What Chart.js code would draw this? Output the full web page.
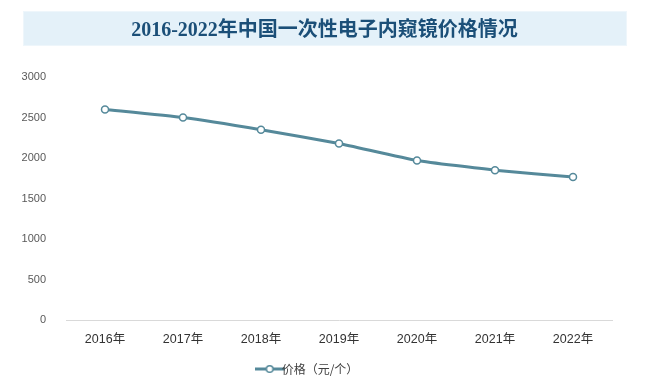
<!DOCTYPE html>
<html>
<head>
    <meta charset="utf-8">
    <title>一次性电子内窥镜价格</title>
    <script src="https://cdn.jsdelivr.net/npm/chart.js"></script>
    <style>
        html, body { margin: 0; padding: 0; background: #ffffff; }
        .chart-container { position: relative; width: 649px; height: 385px; }
    </style>
</head>
<body>
    <div class="chart-container">
        <canvas id="lineChart"></canvas>
    </div>

<script>
    var years = ['2016年', '2017年', '2018年', '2019年', '2020年', '2021年', '2022年'];
    var prices = [2600, 2500, 2350, 2180, 1970, 1850, 1765];
    var seriesName = '价格（元/个）';
    var titleText = '2016-2022年中国一次性电子内窥镜价格情况';
    var lineColor = '#55899a';

    // legend marker: short line with a hollow circle
    function legendMarker() {
        var c = document.createElement('canvas');
        c.width = 30; c.height = 10;
        var g = c.getContext('2d');
        g.strokeStyle = lineColor;
        g.lineWidth = 3;
        g.beginPath(); g.moveTo(0, 5); g.lineTo(30, 5); g.stroke();
        g.fillStyle = '#ffffff';
        g.lineWidth = 1.5;
        g.beginPath(); g.arc(15, 5, 3.3, 0, Math.PI * 2); g.fill(); g.stroke();
        return c;
    }

    // light blue band with the title, centred on the whole canvas
    var titleBox = {
        id: 'titleBox',
        beforeDraw: function(chart) {
            var ctx = chart.ctx;
            ctx.save();
            ctx.fillStyle = '#e4f1f9';
            ctx.fillRect(23, 11, 604, 35);
            ctx.strokeStyle = '#eef6fb';
            ctx.lineWidth = 1;
            ctx.strokeRect(23.5, 11.5, 603, 34);
            ctx.fillStyle = '#1b4f78';
            ctx.font = 'bold 20px "Liberation Serif", "Noto Sans CJK SC", serif';
            ctx.textAlign = 'center';
            ctx.textBaseline = 'middle';
            ctx.fillText(titleText, chart.width / 2, 31);
            ctx.restore();
        }
    };

    var ctx = document.getElementById('lineChart').getContext('2d');
    var lineChart = new Chart(ctx, {
        type: 'line',
        data: {
            labels: years,
            datasets: [{
                label: seriesName,
                data: prices,
                borderColor: lineColor,
                backgroundColor: '#ffffff',
                borderWidth: 3,
                pointRadius: 3.5,
                pointBorderWidth: 1.5,
                pointBackgroundColor: '#ffffff',
                pointBorderColor: lineColor,
                tension: 0.15,
                fill: false
            }]
        },
        options: {
            responsive: true,
            maintainAspectRatio: false,
            animation: false,
            layout: { padding: { left: 10, right: 37, top: 77, bottom: 0 } },
            plugins: {
                title: { display: false },
                legend: {
                    position: 'bottom',
                    labels: {
                        color: '#404040',
                        font: { family: '"Noto Sans CJK SC", sans-serif', size: 12 },
                        usePointStyle: true,
                        padding: 4,
                        generateLabels: function(chart) {
                            var items = Chart.defaults.plugins.legend.labels.generateLabels(chart);
                            items.forEach(function(it) { it.pointStyle = legendMarker(); });
                            return items;
                        }
                    }
                },
                tooltip: { enabled: false }
            },
            scales: {
                x: {
                    offset: true,
                    grid: { display: false },
                    border: { display: true, color: '#d9d9d9', width: 1 },
                    afterFit: function(scale) { scale.height += 8; },
                    ticks: {
                        color: '#333333',
                        padding: 4,
                        font: { family: '"Liberation Sans", "Noto Sans CJK SC", sans-serif', size: 12.5 }
                    }
                },
                y: {
                    min: 0,
                    max: 3000,
                    grid: { display: false },
                    border: { display: false },
                    afterFit: function(scale) { scale.width = 56; },
                    ticks: {
                        stepSize: 500,
                        color: '#595959',
                        padding: 12,
                        font: { family: '"Liberation Sans", sans-serif', size: 11 },
                        callback: function(v) { return String(v); }
                    }
                }
            }
        },
        plugins: [titleBox]
    });
</script>
</body>
</html>
